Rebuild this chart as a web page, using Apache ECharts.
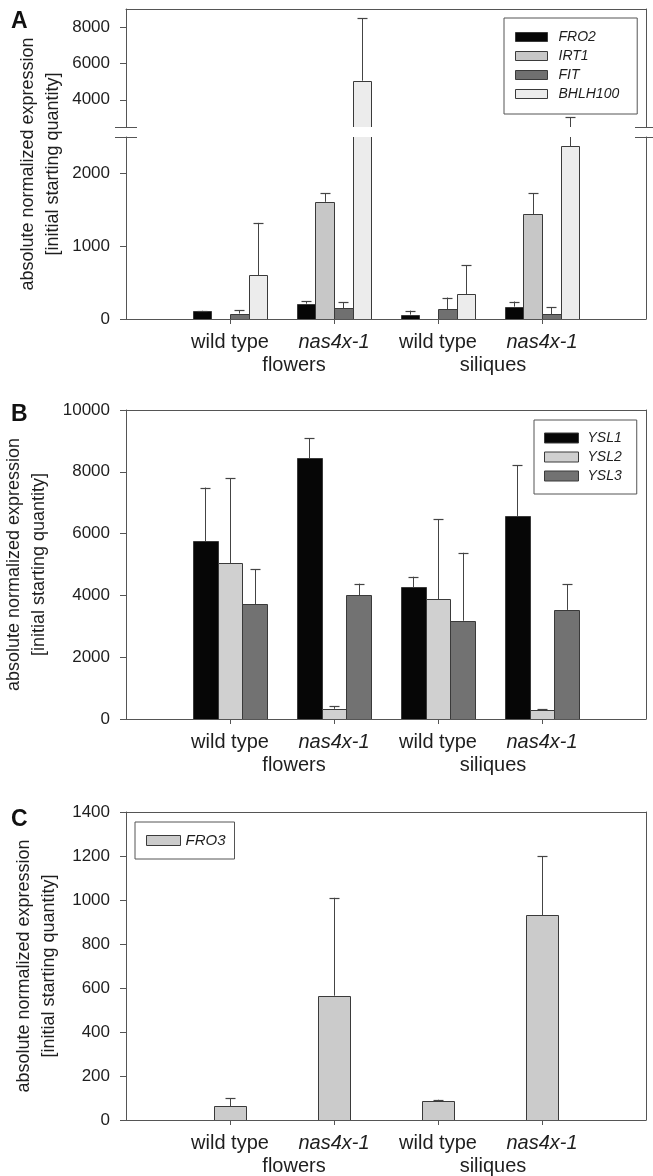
<!DOCTYPE html>
<html>
<head>
<meta charset="utf-8">
<script src="https://cdn.jsdelivr.net/npm/echarts@6/dist/echarts.min.js"></script>
<style>
  html, body { margin: 0; padding: 0; background: #fff; }
  #chart { width: 653px; height: 1176px; }
</style>
</head>
<body>
<div id="chart"></div>
<script>
// ---------------- data ----------------
const categories = ['wild type', 'nas4x-1', 'wild type', 'nas4x-1'];
const groupNames = ['flowers', 'siliques'];

// Panel A
const genesA = ['FRO2', 'IRT1', 'FIT', 'BHLH100'];
const fro2 = [105, 210, 60, 170];
const fro2Err = [8, 35, 55, 70];
const irt1 = [0, 1610, 10, 1440];
const irt1Err = [0, 120, 0, 285];
const fit = [75, 145, 135, 65];
const fitErr = [45, 85, 160, 95];
const bhlh100 = [600, 5050, 340, 2370];
const bhlh100Err = [720, 3440, 400, 680];
const ticksALower = [0, 1000, 2000];
const ticksAUpper = [4000, 6000, 8000];

// Panel B
const genesB = ['YSL1', 'YSL2', 'YSL3'];
const ysl1 = [5760, 8440, 4260, 6570];
const ysl1Err = [1730, 650, 345, 1650];
const ysl2 = [5050, 330, 3870, 290];
const ysl2Err = [2740, 80, 2600, 20];
const ysl3 = [3720, 4010, 3180, 3530];
const ysl3Err = [1130, 370, 2200, 830];

// Panel C
const genesC = ['FRO3'];
const fro3 = [62, 565, 85, 930];
const fro3Err = [38, 445, 7, 268];

// ---------------- style / layout ----------------
const FONT = '"Liberation Sans", Arial, Helvetica, sans-serif';
const TXT = '#1e1e1e', LINE = '#555555', EDGE = '#3a3a3a';
const L = 126, W = 520;
const colorsA = ['#060606', '#c7c7c7', '#707070', '#ececec'];
const colorsB = ['#060606', '#d0d0d0', '#727272'];
const colorsC = ['#cbcbcb'];
const yTitle = 'absolute normalized expression\n[initial starting quantity]';

const catPos = categories.map((c, i) => i + 1);
const groupPos = groupNames.map((g, i) => 2 * i + 1.5);

const option = {
  animation: false,
  backgroundColor: '#ffffff',
  textStyle: { fontFamily: FONT },
  title: [], legend: [], grid: [], xAxis: [], yAxis: [], series: [], graphic: []
};

function addGrid(cfg) {
  const g = option.grid.length;
  option.grid.push({ left: L, width: W, top: cfg.top, height: cfg.height, containLabel: false, outerBoundsMode: 'none' });
  const xi = option.xAxis.length;
  option.xAxis.push({
    gridIndex: g, type: 'value', min: 0, max: 5, position: 'bottom',
    splitLine: { show: false },
    axisLine: { show: !!cfg.bottomLine, onZero: false, lineStyle: { color: LINE, width: 1 } },
    axisTick: { show: !!cfg.labels, customValues: catPos, length: 5, lineStyle: { color: LINE } },
    axisLabel: {
      show: !!cfg.labels, customValues: catPos, margin: 13, fontSize: 20, color: TXT, fontFamily: FONT,
      formatter: v => {
        const name = categories[Math.round(v) - 1] || '';
        return name === 'wild type' ? name : '{it|' + name + '}';
      },
      rich: { it: { fontStyle: 'italic', fontSize: 20, color: TXT, fontFamily: FONT } }
    }
  });
  if (cfg.labels) {
    option.xAxis.push({
      gridIndex: g, type: 'value', min: 0, max: 5, position: 'bottom',
      splitLine: { show: false }, axisLine: { show: false, onZero: false }, axisTick: { show: false },
      axisLabel: {
        show: true, customValues: groupPos, margin: 36, fontSize: 20, color: TXT, fontFamily: FONT,
        formatter: v => {
          const i = Math.floor(v / 2);
          return '{g' + i + '|' + groupNames[i] + '}';
        },
        rich: {
          g0: { fontSize: 20, color: TXT, fontFamily: FONT, padding: [0, 0, 0, 24] },
          g1: { fontSize: 20, color: TXT, fontFamily: FONT, padding: [0, 0, 0, 6] }
        }
      }
    });
  }
  if (cfg.topLine) {
    option.xAxis.push({
      gridIndex: g, type: 'value', min: 0, max: 5, position: 'top',
      splitLine: { show: false }, axisLine: { show: true, onZero: false, lineStyle: { color: LINE, width: 1 } },
      axisTick: { show: false }, axisLabel: { show: false }
    });
  }
  const yi = option.yAxis.length;
  option.yAxis.push({
    gridIndex: g, type: 'value', min: cfg.yMin, max: cfg.yMax, interval: cfg.interval, position: 'left',
    splitLine: { show: false },
    axisLine: { show: true, onZero: false, lineStyle: { color: LINE, width: 1 } },
    axisTick: { show: true, length: 6, customValues: cfg.ticks, lineStyle: { color: LINE } },
    axisLabel: { show: true, customValues: cfg.ticks, margin: 16, fontSize: 17, color: TXT, fontFamily: FONT, formatter: v => String(v) },
    name: cfg.name, nameLocation: 'middle', nameRotate: 90, nameGap: 60,
    nameTextStyle: { fontSize: 18, lineHeight: 25, color: TXT, fontFamily: FONT }
  });
  option.yAxis.push({
    gridIndex: g, type: 'value', min: cfg.yMin, max: cfg.yMax, position: 'right',
    splitLine: { show: false },
    axisLine: { show: true, onZero: false, lineStyle: { color: LINE, width: 1 } },
    axisTick: { show: false }, axisLabel: { show: false }
  });
  return { xi, yi };
}

function barRenderer(slot, nSlots, widthFrac, fill) {
  return function (params, api) {
    const x = api.value(0), v = api.value(1), e = api.value(2);
    const cs = params.coordSys;
    const top = cs.y, bot = cs.y + cs.height;
    const clamp = y => Math.max(top, Math.min(bot, y));
    const unit = api.size([1, 0])[0];
    const bw = unit * widthFrac;
    const cx = api.coord([x, 0])[0] + (slot - (nSlots - 1) / 2) * bw;
    const x0 = Math.round(cx - bw / 2) + 0.5, x1 = Math.round(cx + bw / 2) + 0.5;
    const xm = Math.round(cx) + 0.5;
    const yBaseRaw = api.coord([x, 0])[1];
    const yValRaw = api.coord([x, v])[1];
    const yErrRaw = api.coord([x, v + e])[1];
    const yb = clamp(yBaseRaw);
    const yv = Math.round(clamp(yValRaw)) + (yValRaw >= top ? 0.5 : 0);
    const lineStyle = { stroke: EDGE, lineWidth: 1 };
    const children = [];
    if (yb - yv > 0.5) {
      children.push({ type: 'rect', shape: { x: x0, y: yv, width: x1 - x0, height: yb - yv }, style: { fill: fill } });
      children.push({ type: 'line', shape: { x1: x0, y1: yb, x2: x0, y2: yv }, style: lineStyle });
      children.push({ type: 'line', shape: { x1: x1, y1: yb, x2: x1, y2: yv }, style: lineStyle });
      if (yValRaw >= top) {
        children.push({ type: 'line', shape: { x1: x0, y1: yv, x2: x1, y2: yv }, style: lineStyle });
      }
    }
    if (e > 0) {
      const ys = clamp(yValRaw);
      const ye = clamp(yErrRaw);
      if (ys - ye > 0.5) {
        children.push({ type: 'line', shape: { x1: xm, y1: ys, x2: xm, y2: ye }, style: { stroke: '#444', lineWidth: 1 } });
        if (yErrRaw >= top) {
          const yc = Math.round(ye) + 0.5;
          children.push({ type: 'line', shape: { x1: xm - 5, y1: yc, x2: xm + 5, y2: yc }, style: { stroke: '#444', lineWidth: 1.2 } });
        }
      }
    }
    return { type: 'group', children };
  };
}

function addBars(names, colors, values, errs, axesList, widthFrac) {
  names.forEach((name, s) => {
    axesList.forEach(ax => {
      option.series.push({
        type: 'custom', name, xAxisIndex: ax.xi, yAxisIndex: ax.yi, silent: true,
        itemStyle: { color: colors[s] },
        encode: { x: 0, y: 1 },
        renderItem: barRenderer(s, names.length, widthFrac, colors[s]),
        data: values[s].map((v, i) => [catPos[i], v, errs[s][i]])
      });
    });
  });
}

function addLegend(names, colors, pos) {
  option.legend.push({
    orient: 'vertical', left: pos.left, top: pos.top, selectedMode: false,
    icon: 'rect', itemWidth: pos.iw, itemHeight: pos.ih, itemGap: pos.gap,
    padding: pos.padding, borderColor: LINE, borderWidth: 1, backgroundColor: '#fff',
    itemStyle: { borderColor: EDGE, borderWidth: 1 },
    textStyle: { fontStyle: 'italic', fontSize: pos.fs, lineHeight: pos.lh, color: TXT, fontFamily: FONT, padding: [0, 0, 0, pos.tgap] },
    data: names.map((n, i) => ({ name: n, itemStyle: { color: colors[i], borderColor: EDGE, borderWidth: 1 } }))
  });
}

// ---------------- panel A (broken axis) ----------------
const aUpper = addGrid({ top: 9, height: 118, yMin: 2500, yMax: 9000, ticks: ticksAUpper, topLine: true });
const aLower = addGrid({ top: 137, height: 182, yMin: 0, yMax: 2500, ticks: ticksALower, bottomLine: true, labels: true });
// full-height helper grid for the axis title of panel A
(function () {
  const g = option.grid.length;
  option.grid.push({ left: L, width: W, top: 9, height: 310, containLabel: false, outerBoundsMode: 'none' });
  option.xAxis.push({ gridIndex: g, type: 'value', show: false, min: 0, max: 5 });
  option.yAxis.push({
    gridIndex: g, type: 'value', min: 0, max: 1,
    axisLine: { show: false }, axisTick: { show: false }, axisLabel: { show: false }, splitLine: { show: false },
    name: yTitle, nameLocation: 'middle', nameRotate: 90, nameGap: 60,
    nameTextStyle: { fontSize: 18, lineHeight: 25, color: TXT, fontFamily: FONT }
  });
})();
addBars(genesA, colorsA, [fro2, irt1, fit, bhlh100], [fro2Err, irt1Err, fitErr, bhlh100Err], [aUpper, aLower], 0.178);
addLegend(genesA, colorsA, { left: 504, top: 18, iw: 32, ih: 9, gap: 5, lh: 13.5, fs: 14, tgap: 6, padding: [12, 18, 13, 11] });

// break marks on the broken axis of panel A
[L, L + W].forEach(ax => {
  [127.5, 137.5].forEach(y => {
    option.graphic.push({ type: 'line', silent: true, shape: { x1: ax - 11, y1: y, x2: ax + 11, y2: y }, style: { stroke: LINE, lineWidth: 1 } });
  });
});

// ---------------- panel B ----------------
const bAx = addGrid({ top: 410, height: 309, yMin: 0, yMax: 10000, interval: 2000, topLine: true, bottomLine: true, labels: true, name: yTitle });
addBars(genesB, colorsB, [ysl1, ysl2, ysl3], [ysl1Err, ysl2Err, ysl3Err], [bAx], 0.237);
addLegend(genesB, colorsB, { left: 534, top: 420, iw: 34, ih: 10, gap: 5, lh: 14, fs: 14, tgap: 4, padding: [11, 15, 11, 10] });

// ---------------- panel C ----------------
const cAx = addGrid({ top: 812, height: 308, yMin: 0, yMax: 1400, interval: 200, topLine: true, bottomLine: true, labels: true, name: yTitle });
addBars(genesC, colorsC, [fro3], [fro3Err], [cAx], 0.315);
addLegend(genesC, colorsC, { left: 135, top: 822, iw: 34, ih: 10, gap: 5, lh: 14, fs: 15, tgap: 0, padding: [11, 9, 11, 11] });

// panel letters
[['A', 10], ['B', 403], ['C', 808]].forEach(([t, top]) => {
  option.title.push({ text: t, left: 11, top: top, padding: 0, textStyle: { fontSize: 23, fontWeight: 'bold', color: '#111', fontFamily: FONT } });
});

const chart = echarts.init(document.getElementById('chart'), null, { renderer: 'canvas' });
chart.setOption(option);
</script>
</body>
</html>
